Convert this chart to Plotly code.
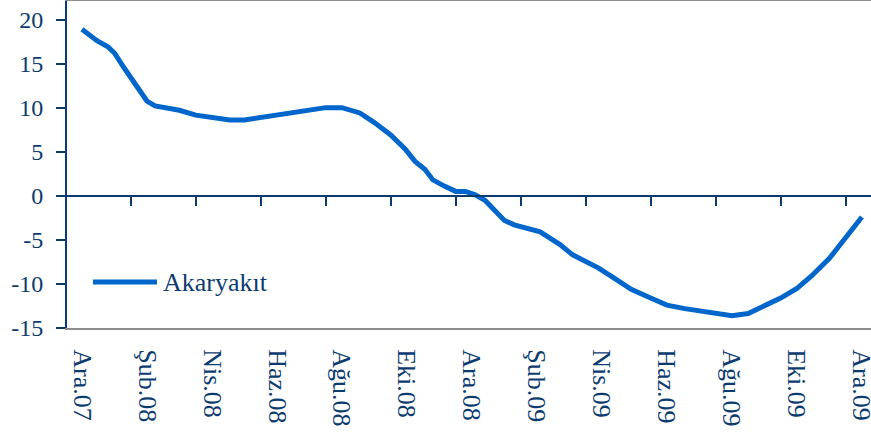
import plotly.graph_objects as go

# Data (month index from Ara.07 = 0)
months = [0, 0.46, 0.8, 1.0, 1.3, 1.6, 2.0, 2.25, 2.55, 3.0, 3.5, 4.0, 4.55, 5.0, 5.5, 6.1, 6.7,
          7.5, 8.0, 8.55, 9.0, 9.5, 9.95, 10.25, 10.55, 10.8, 11.15, 11.5, 11.8, 12.1, 12.4,
          12.7, 13.0, 13.3, 13.8, 14.1, 14.4, 14.7, 15.1, 15.5, 15.9, 16.4, 16.9, 17.5, 18.0,
          18.55, 19.2, 20.0, 20.5, 21.0, 21.5, 22.0, 22.45, 23.0, 23.5, 24.0]
akaryakit = [18.9, 17.6, 16.9, 16.2, 14.5, 12.8, 10.75, 10.2, 10.0, 9.7, 9.15, 8.9, 8.6, 8.6,
             8.9, 9.3, 9.6, 10.0, 10.0, 9.4, 8.3, 6.9, 5.3, 3.9, 3.0, 1.8, 1.1, 0.5, 0.5, 0.1,
             -0.5, -1.6, -2.8, -3.3, -3.8, -4.1, -4.8, -5.5, -6.7, -7.4, -8.2, -9.4, -10.6,
             -11.6, -12.4, -12.8, -13.1, -13.6, -13.35, -12.5, -11.6, -10.5, -9.1, -7.1, -4.8, -2.4]

tick_labels = ["Ara.07", "Şub.08", "Nis.08", "Haz.08", "Ağu.08", "Eki.08", "Ara.08",
               "Şub.09", "Nis.09", "Haz.09", "Ağu.09", "Eki.09", "Ara.09"]
tick_positions = [0, 2, 4, 6, 8, 10, 12, 14, 16, 18, 20, 22, 24]
zero_ticks = [1.5, 3.5, 5.5, 7.5, 9.5, 11.5, 13.5, 15.5, 17.5, 19.5, 21.5, 23.5]
y_ticks = [-15, -10, -5, 0, 5, 10, 15, 20]
y_tick_labels = ["-15", "-10", "-5", "0", "5", "10", "15", "20"]

NAVY = "#0c3b70"
LINE = "#0066cc"
FONT = "Liberation Serif"
XR = [-0.46, 24.28]
YR = [-15, 22.1]

fig = go.Figure()
fig.add_trace(go.Scatter(x=months, y=akaryakit, mode="lines", name="Akaryakıt",
                         line=dict(color=LINE, width=5), showlegend=False,
                         hoverinfo="skip"))
# invisible helper trace for the zero-line axis
fig.add_trace(go.Scatter(x=[XR[0], XR[1]], y=[0, 0], xaxis="x2", mode="lines",
                         line=dict(width=0, color="rgba(0,0,0,0)"), showlegend=False,
                         hoverinfo="skip"))

zero_pos = (0 - YR[0]) / (YR[1] - YR[0])

fig.update_layout(
    width=871, height=438,
    margin=dict(l=67, r=0, t=1, b=110, autoexpand=False),
    paper_bgcolor="white", plot_bgcolor="white",
    font=dict(family=FONT, color=NAVY),
    xaxis=dict(range=XR, tickvals=tick_positions, ticktext=tick_labels,
               tickangle=90, showgrid=False, zeroline=False, automargin=False,
               showline=True, linecolor="#8c8c8c", linewidth=2, mirror=True,
               ticks="", ticklabelstandoff=14, ticklabeloverflow="allow",
               tickfont=dict(size=26, family=FONT, color=NAVY)),
    xaxis2=dict(range=XR, overlaying="x", anchor="free", position=zero_pos,
                side="bottom", showgrid=False, zeroline=False, automargin=False,
                showline=True, linecolor=NAVY, linewidth=2,
                tickvals=zero_ticks, showticklabels=False,
                ticks="outside", ticklen=9, tickwidth=2, tickcolor=NAVY),
    yaxis=dict(range=YR, tickvals=y_ticks, ticktext=y_tick_labels,
               showgrid=False, zeroline=False, automargin=False,
               showline=True, linecolor=NAVY, linewidth=2,
               ticks="outside", ticklen=9, tickwidth=2, tickcolor=NAVY,
               ticklabelstandoff=8,
               tickfont=dict(size=24, family=FONT, color=NAVY)),
)

# legend (line sample + label)
pw = 871 - 67
ph = 438 - 1 - 110
ly = (438 - 110 - 282) / ph
fig.add_shape(type="line", xref="paper", yref="paper",
              x0=(93 - 67) / pw, x1=(157 - 67) / pw, y0=ly, y1=ly,
              line=dict(color=LINE, width=5))
fig.add_annotation(xref="paper", yref="paper", x=(161 - 67) / pw, y=ly,
                   xanchor="left", yanchor="middle", showarrow=False,
                   text="Akaryakıt", font=dict(size=26, family=FONT, color=NAVY))

fig.write_html("out.html",
               config={"displayModeBar": False},
               post_script="document.body.style.margin='0';document.body.style.padding='0';"
                           "document.body.style.overflow='hidden';")
